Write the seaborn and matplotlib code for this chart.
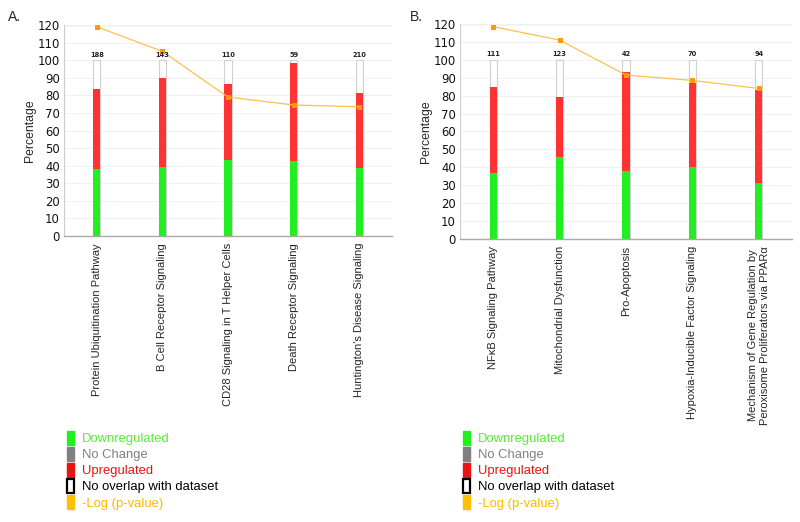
import numpy as np
import pandas as pd
import matplotlib
matplotlib.use("Agg")
import matplotlib.pyplot as plt
import seaborn as sns
from matplotlib.patches import Patch

# ---- data ----
cats_a = ["Protein Ubiquitination Pathway", "B Cell Receptor Signaling",
          "CD28 Signaling in T Helper Cells", "Death Receptor Signaling",
          "Huntington's Disease Signaling"]
down_a = [38, 39, 43, 42.5, 38.5]
up_total_a = [83.5, 90, 86.5, 98.5, 81.5]
logp_a = [119, 105, 79, 74.5, 73.5]
counts_a = [188, 143, 110, 59, 210]

cats_b = ["NFκB Signaling Pathway", "Mitochondrial Dysfunction", "Pro-Apoptosis",
          "Hypoxia-Inducible Factor Signaling",
          "Mechanism of Gene Regulation by\nPeroxisome Proliferators via PPARα"]
down_b = [37, 45.5, 38, 40, 31]
up_total_b = [85, 79, 93, 87, 83]
logp_b = [118.5, 111, 91.5, 88.5, 84]
counts_b = [111, 123, 42, 70, 94]

full = [100] * 5
yticks = list(range(0, 121, 10))
legend_labels = ["Downregulated", "No Change", "Upregulated",
                 "No overlap with dataset", "-Log (p-value)"]

GREEN = "#22EE22"
RED = "#FF3333"
LINE = "#FFC04D"
MARK = "#FF9900"

sns.set_theme(style="white")
plt.rcParams['font.family'] = ['DejaVu Sans']

fig = plt.figure(figsize=(8, 5.22), dpi=100)
ax_a = fig.add_axes([64/800, 1-236/522, 328/800, 211/522])
ax_b = fig.add_axes([460/800, 1-239/522, 332/800, 215/522])


def panel(ax, cats, down, uptot, logp, counts, letter, lx):
    df = pd.DataFrame({"cat": cats, "down": down, "up": uptot,
                       "full": full, "logp": logp})
    w = 0.11
    sns.barplot(data=df, x="cat", y="full", ax=ax, color="white",
                edgecolor="#D0D0D0", linewidth=0.8, width=w, saturation=1)
    sns.barplot(data=df, x="cat", y="up", ax=ax, color=RED,
                linewidth=0, width=w, saturation=1)
    sns.barplot(data=df, x="cat", y="down", ax=ax, color=GREEN,
                linewidth=0, width=w, saturation=1)
    xs = np.arange(len(cats))
    sns.lineplot(x=xs, y=logp, ax=ax, color=LINE, linewidth=0.9,
                 marker="s", markersize=3.5, markerfacecolor=MARK,
                 markeredgecolor=MARK)
    for i, c in enumerate(counts):
        ax.text(i, 101.5, str(c), ha="center", va="bottom",
                fontsize=4.8, fontweight="bold", color="#222222")
    ax.set_ylim(0, 120)
    ax.set_xlim(-0.5, len(cats) - 0.5)
    ax.set_yticks(yticks)
    ax.set_yticklabels([str(t) for t in yticks], fontsize=8.4, color="#111111")
    ax.yaxis.grid(True, color="#F0F0F0", linewidth=0.7)
    ax.axhline(120, color="#DADADA", linewidth=1.0, zorder=0)
    ax.set_axisbelow(True)
    ax.set_xlabel("")
    ax.set_ylabel("Percentage", fontsize=8.8, family="Liberation Sans",
                  labelpad=1)
    ax.set_xticks(xs)
    ax.set_xticklabels(cats, rotation=90, ha="center", va="top",
                       fontsize=8.0, family="Liberation Sans",
                       linespacing=1.25)
    ax.tick_params(axis="both", length=0, pad=3)
    ax.tick_params(axis="x", pad=5)
    for s in ["top", "right"]:
        ax.spines[s].set_visible(False)
    ax.spines["left"].set_color("#CCCCCC")
    ax.spines["bottom"].set_color("#AAAAAA")
    ax.spines["left"].set_linewidth(0.8)
    ax.spines["bottom"].set_linewidth(1.0)
    fig.text(lx, 1 - 17/522, letter, fontsize=10, family="Liberation Sans",
             ha="left", va="center")


panel(ax_a, cats_a, down_a, up_total_a, logp_a, counts_a, "A.", 8/800)
panel(ax_b, cats_b, down_b, up_total_b, logp_b, counts_b, "B.", 410/800)

handles = [Patch(facecolor=GREEN, edgecolor=GREEN),
           Patch(facecolor="#808080", edgecolor="#808080"),
           Patch(facecolor="#EE1111", edgecolor="#EE1111"),
           Patch(facecolor="white", edgecolor="black", linewidth=1.6),
           Patch(facecolor="#FFC000", edgecolor="#FFC000")]
text_colors = ["#55EE33", "#808080", "#EE1111", "#000000", "#FFB800"]

for lx in [62/800, 458/800]:
    leg = fig.legend(handles, legend_labels, loc="upper left",
                     bbox_to_anchor=(lx, 1 - 426/522), frameon=False,
                     handlelength=0.55, handleheight=1.2, handletextpad=0.6,
                     labelspacing=0.15, borderaxespad=0,
                     prop={"family": "Liberation Sans", "size": 9.4})
    for t, c in zip(leg.get_texts(), text_colors):
        t.set_color(c)

fig.savefig("out.png", dpi=100)
